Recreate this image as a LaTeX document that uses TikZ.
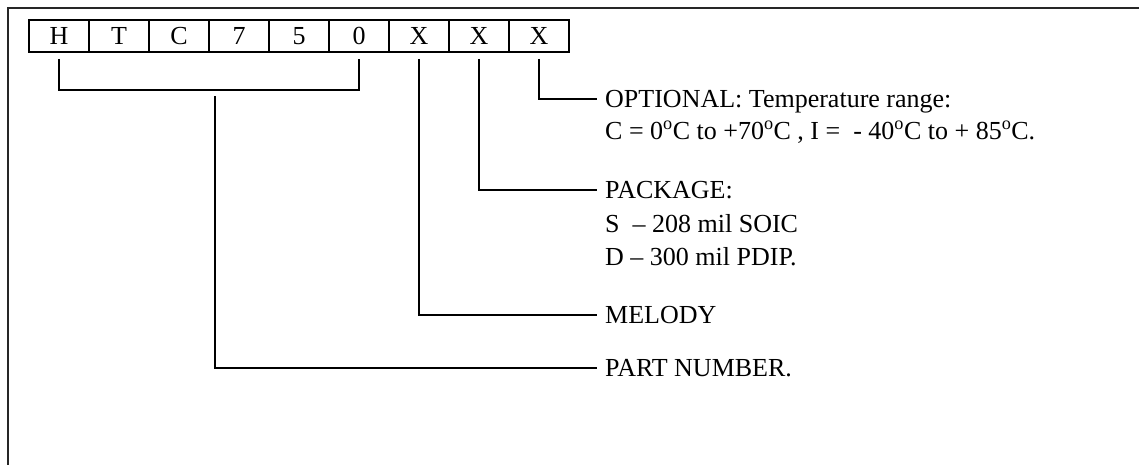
\documentclass[tikz,border=0pt]{standalone}
\usepackage{fontspec}
\setmainfont{Liberation Serif}
\begin{document}
\begin{tikzpicture}[x=1pt,y=-1pt,
  every node/.style={font=\fontsize{26}{32}\selectfont},
  cell/.style={draw,line width=1.6pt,minimum width=60pt,minimum height=32pt,inner sep=0pt,text height=17pt,text depth=0pt},
  lbl/.style={anchor=west,inner sep=0pt,text height=17pt,text depth=0pt},
  sub/.style={anchor=base west,inner sep=0pt},
  conn/.style={line width=1.5pt},
  frame/.style={line width=1.8pt,draw=black!85}]
\useasboundingbox (0,0) rectangle (1139,464);
\draw[frame] (8,470) -- (8,8) -- (1145,8);
% cells
\foreach \t [count=\i] in {H,T,C,7,5,0,X,X,X}{
  \node[cell] (c\i) at ({59+60*(\i-1)},36) {\t};
}
% labels
\node[lbl] (opt) at (605,99) {OPTIONAL: Temperature range:};
\node[sub] (opt2) at (605,139) {C = 0\textsuperscript{o}C to +70\textsuperscript{o}C , I =~ - 40\textsuperscript{o}C to + 85\textsuperscript{o}C.};
\node[lbl] (pkg) at (605,190) {PACKAGE:};
\node[sub] (pkg2) at (605,232) {S~ -- 208 mil SOIC};
\node[sub] (pkg3) at (605,265) {D -- 300 mil PDIP.};
\node[lbl] (mel) at (605,315) {MELODY};
\node[lbl] (part) at (605,368) {PART NUMBER.};
% connectors
\coordinate (pn) at (215,96);
\draw[conn] ([yshift=-6pt]c1.south) -- ++(0,31) -| ([yshift=-6pt]c6.south);
\draw[conn] (pn) |- ([xshift=-8pt]part.west);
\draw[conn] ([yshift=-6pt]c7.south) |- ([xshift=-8pt]mel.west);
\draw[conn] ([yshift=-6pt]c8.south) |- ([xshift=-8pt]pkg.west);
\draw[conn] ([yshift=-6pt]c9.south) |- ([xshift=-8pt]opt.west);
\end{tikzpicture}
\end{document}
